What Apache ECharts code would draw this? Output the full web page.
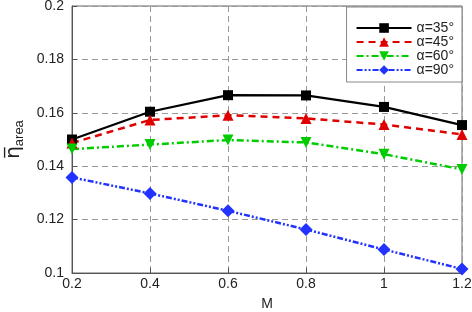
<!DOCTYPE html>
<html><head><meta charset="utf-8">
<script src="https://cdn.jsdelivr.net/npm/echarts@6/dist/echarts.min.js"></script>
<style>html,body{margin:0;padding:0;background:#fff}#c{width:472px;height:312px}</style>
</head><body><div id="c"></div>
<script>
const M = [0.2, 0.4, 0.6, 0.8, 1.0, 1.2];
const a35 = [0.1500, 0.1604, 0.1666, 0.1665, 0.1622, 0.1554];
const a45 = [0.1487, 0.1573, 0.1591, 0.1579, 0.1556, 0.1519];
const a60 = [0.1464, 0.1481, 0.1498, 0.1489, 0.1445, 0.1388];
const a90 = [0.1358, 0.1298, 0.1233, 0.1163, 0.1088, 0.1015];
const names = ['α=35°', 'α=45°', 'α=60°', 'α=90°'];
const pair = arr => M.map((m, i) => [m, arr[i]]);
const font = 'Liberation Sans, Arial, sans-serif';
const chart = echarts.init(document.getElementById('c'));
const gridLine = {show: true, lineStyle: {color: '#999', type: [6, 4], width: 1}};
chart.setOption({
  animation: false,
  grid: {left: 72, right: 10, top: 6, bottom: 39, show: true, borderColor: '#666', borderWidth: 1,
         containLabel: false, outerBoundsMode: 'none'},
  legend: {
    right: 10, top: 7, orient: 'vertical', backgroundColor: '#fff', borderColor: '#888', borderWidth: 1,
    padding: [14, 8, 5, 9], itemGap: 0, itemWidth: 55, itemHeight: 12,
    textStyle: {fontFamily: font, fontSize: 14, lineHeight: 12, color: '#222'},
    data: names
  },
  xAxis: {
    type: 'value', min: 0.2, max: 1.2, interval: 0.2,
    name: 'M', nameLocation: 'middle', nameGap: 24,
    nameTextStyle: {fontFamily: font, fontSize: 14, color: '#222'},
    axisLine: {lineStyle: {color: '#555'}},
    axisTick: {inside: true, length: 5, lineStyle: {color: '#555'}},
    axisLabel: {fontFamily: font, fontSize: 14, color: '#222', margin: 4},
    splitLine: gridLine
  },
  yAxis: {
    type: 'value', min: 0.1, max: 0.2, interval: 0.02,
    name: '{a|η̅}{b|area}', nameLocation: 'middle', nameGap: 46,
    nameTextStyle: {fontFamily: font, color: '#222',
      rich: {a: {fontSize: 20, fontFamily: 'DejaVu Sans', color: '#222'}, b: {fontSize: 13, fontFamily: font, color: '#222', padding: [12, 0, 0, 0]}}},
    axisLine: {show: true, lineStyle: {color: '#555'}},
    axisTick: {show: true, inside: true, length: 5, lineStyle: {color: '#555'}},
    axisLabel: {fontFamily: font, fontSize: 14, color: '#222', margin: 8},
    splitLine: gridLine
  },
  series: [
    {name: names[0], type: 'line', data: pair(a35), symbol: 'rect', symbolSize: 10,
     itemStyle: {color: '#000'}, lineStyle: {color: '#000', width: 2.2, type: 'solid'}},
    {name: names[1], type: 'line', data: pair(a45), symbol: 'triangle', symbolSize: 11,
     itemStyle: {color: '#e00000'}, lineStyle: {color: '#e00000', width: 2.5, type: [7, 5]}},
    {name: names[2], type: 'line', data: pair(a60), symbol: 'triangle', symbolRotate: 180, symbolSize: 11,
     itemStyle: {color: '#00cc00'}, lineStyle: {color: '#00cc00', width: 2.5, type: [7, 3, 2, 3]}},
    {name: names[3], type: 'line', data: pair(a90), symbol: 'diamond', symbolSize: 13,
     itemStyle: {color: '#2233ff'}, lineStyle: {color: '#2233ff', width: 2.5, type: [6, 2, 2, 2, 2, 2]}}
  ]
});
</script></body></html>
